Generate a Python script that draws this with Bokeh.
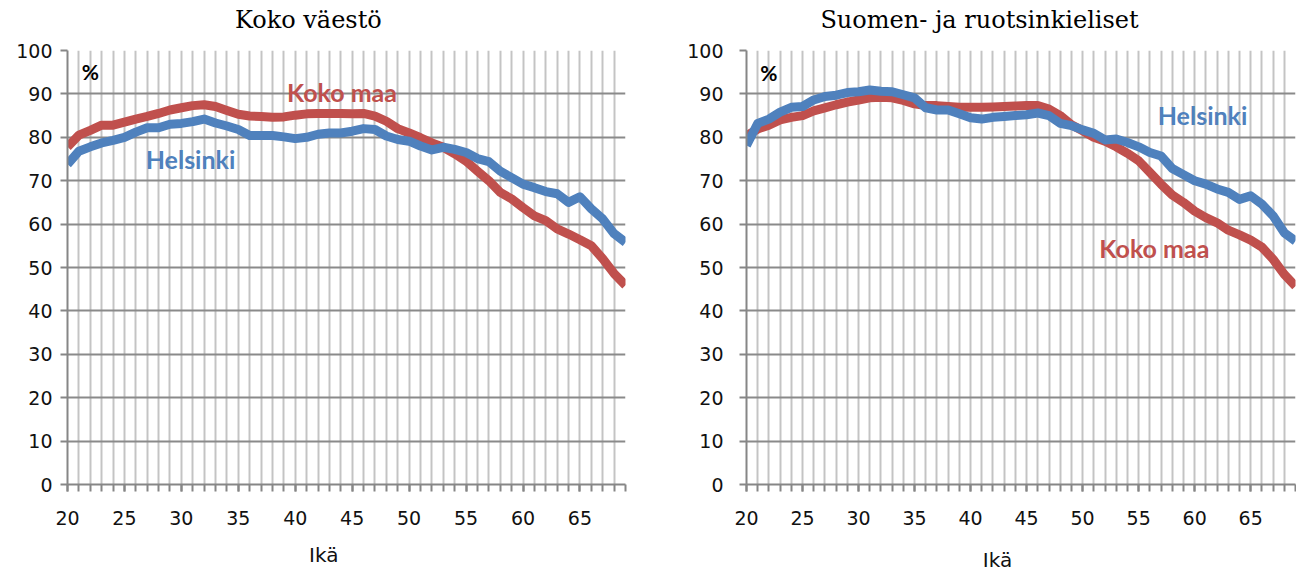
from bokeh.plotting import figure
from bokeh.models import Range1d, FixedTicker, Label, LinearAxis
from bokeh.layouts import row
from bokeh.embed import file_html
from bokeh.resources import INLINE

ages = list(range(20, 70))
x_major_ticks = list(range(20, 70, 5))
y_ticks = list(range(0, 101, 10))

# Koko väestö
all_koko_maa = [77.8, 80.5, 81.6, 82.8, 82.8, 83.5, 84.2, 84.8, 85.5, 86.3,
                86.8, 87.3, 87.5, 87.1, 86.2, 85.3, 84.9, 84.8, 84.6, 84.7,
                85.1, 85.4, 85.5, 85.5, 85.5, 85.4, 85.5, 84.9, 83.7, 82.0,
                81.0, 79.9, 78.7, 77.7, 76.2, 74.5, 72.2, 70.0, 67.3, 65.8,
                63.8, 61.9, 60.8, 58.9, 57.7, 56.4, 55.0, 52.0, 48.6, 45.9]
all_helsinki = [73.8, 76.8, 77.8, 78.7, 79.3, 80.0, 81.2, 82.2, 82.2, 83.0,
                83.2, 83.6, 84.2, 83.3, 82.6, 81.8, 80.4, 80.4, 80.4, 80.1,
                79.7, 80.0, 80.7, 81.0, 81.0, 81.4, 82.0, 81.8, 80.3, 79.5,
                79.1, 78.0, 77.1, 77.7, 77.2, 76.5, 75.1, 74.4, 72.2, 70.7,
                69.2, 68.4, 67.5, 67.0, 65.0, 66.3, 63.5, 61.2, 57.8, 55.8]

# Suomen- ja ruotsinkieliset
fs_koko_maa = [80.4, 81.9, 82.8, 84.0, 84.6, 85.0, 86.1, 86.8, 87.5, 88.1,
               88.6, 89.1, 89.2, 89.1, 88.5, 87.7, 87.3, 87.3, 87.1, 86.9,
               86.9, 86.9, 87.0, 87.1, 87.2, 87.3, 87.3, 86.5, 85.0, 82.9,
               81.5, 80.0, 79.1, 77.8, 76.3, 74.6, 71.9, 69.2, 66.7, 65.0,
               63.0, 61.5, 60.3, 58.6, 57.5, 56.3, 54.7, 51.9, 48.4, 45.7]
fs_helsinki = [78.1, 83.2, 84.2, 85.8, 86.9, 87.1, 88.6, 89.4, 89.7, 90.3,
               90.5, 90.9, 90.6, 90.5, 89.8, 89.1, 86.8, 86.3, 86.3, 85.4,
               84.5, 84.2, 84.6, 84.8, 85.0, 85.2, 85.6, 85.0, 83.2, 82.7,
               81.7, 80.9, 79.4, 79.6, 78.8, 77.8, 76.5, 75.7, 72.8, 71.4,
               70.0, 69.2, 68.1, 67.3, 65.7, 66.5, 64.6, 61.9, 58.0, 56.1]

RED = "#C0504D"
BLUE = "#4F81BD"
MAJ_GRID = "#8A8A8A"
MIN_GRID = "#C4C4C4"
AXIS = "#868686"


def text_axis(x, text, standoff, font, size, color):
    """An axis without line or ticks that carries one text at data position x."""
    return LinearAxis(ticker=FixedTicker(ticks=[x], minor_ticks=[]),
                      major_label_overrides={x: text},
                      axis_line_color=None, major_tick_line_color=None,
                      minor_tick_line_color=None, major_tick_out=0, major_tick_in=0,
                      minor_tick_out=0, minor_tick_in=0,
                      major_label_standoff=standoff,
                      major_label_text_font=font,
                      major_label_text_font_size=size,
                      major_label_text_color=color)


def make_fig(koko, hki, title, title_x, border_left, border_right, y_standoff,
             hki_pos, koko_pos, pct_pos, ika_x, ika_standoff):
    p = figure(width=648, height=574, x_range=Range1d(20, 69), y_range=Range1d(0, 100),
               output_backend="svg", toolbar_location=None,
               min_border_left=border_left, min_border_right=border_right,
               min_border_top=50, min_border_bottom=90)
    p.outline_line_color = None
    p.background_fill_color = "white"

    p.xaxis.ticker = FixedTicker(ticks=x_major_ticks, minor_ticks=ages)
    p.yaxis.ticker = FixedTicker(ticks=y_ticks, minor_ticks=[])

    for ax in (p.xaxis, p.yaxis):
        ax.axis_line_color = AXIS
        ax.axis_line_width = 2
        ax.major_tick_line_color = AXIS
        ax.major_tick_line_width = 2
        ax.minor_tick_line_color = AXIS
        ax.minor_tick_line_width = 2
        ax.major_tick_in = 0
        ax.minor_tick_in = 0
        ax.major_tick_out = 7
        ax.major_label_text_font = "DejaVu Sans"
        ax.major_label_text_font_size = "19px"
        ax.major_label_text_color = "#111111"
    p.xaxis.minor_tick_out = 7
    p.yaxis.minor_tick_out = 0
    p.xaxis.major_label_standoff = 19
    p.yaxis.major_label_standoff = y_standoff

    # chart title above the plot (added after the age axis is styled)
    p.add_layout(text_axis(title_x, title, 17, "DejaVu Serif", "24px", "#000000"), "above")
    # axis title "Ikä" under the age axis
    p.add_layout(text_axis(ika_x, "Ikä", ika_standoff, "DejaVu Sans", "20px", "#111111"),
                 "below")

    p.xgrid.ticker = FixedTicker(ticks=ages)
    p.xgrid.grid_line_color = MIN_GRID
    p.xgrid.grid_line_width = 2
    p.ygrid.grid_line_color = MAJ_GRID
    p.ygrid.grid_line_width = 2

    p.line(ages, koko, line_color=RED, line_width=9, line_join="round")
    p.line(ages, hki, line_color=BLUE, line_width=9, line_join="round")

    p.add_layout(Label(x=pct_pos[0], y=pct_pos[1], text="%", text_align="center",
                       text_baseline="alphabetic", text_font="Lato",
                       text_font_style="bold", text_font_size="21px",
                       text_color="#000000"))
    p.add_layout(Label(x=hki_pos[0], y=hki_pos[1], text="Helsinki", text_align="center",
                       text_baseline="alphabetic", text_font="Lato",
                       text_font_style="bold", text_font_size="25px",
                       text_color=BLUE))
    p.add_layout(Label(x=koko_pos[0], y=koko_pos[1], text="Koko maa", text_align="center",
                       text_baseline="alphabetic", text_font="Lato",
                       text_font_style="bold", text_font_size="25px",
                       text_color=RED))
    return p


p1 = make_fig(all_koko_maa, all_helsinki, "Koko väestö", 41.15, 67, 23, 8,
              (30.8, 74.9), (44.1, 90.5), (22.0, 95.1), 42.5, 15)
p2 = make_fig(fs_koko_maa, fs_helsinki, "Suomen- ja ruotsinkieliset", 40.8, 98, 1, 16,
              (60.7, 85.2), (56.4, 54.6), (22.0, 95.0), 42.4, 20)

layout = row(p1, p2)
open("out.html", "w").write(file_html(layout, INLINE))
